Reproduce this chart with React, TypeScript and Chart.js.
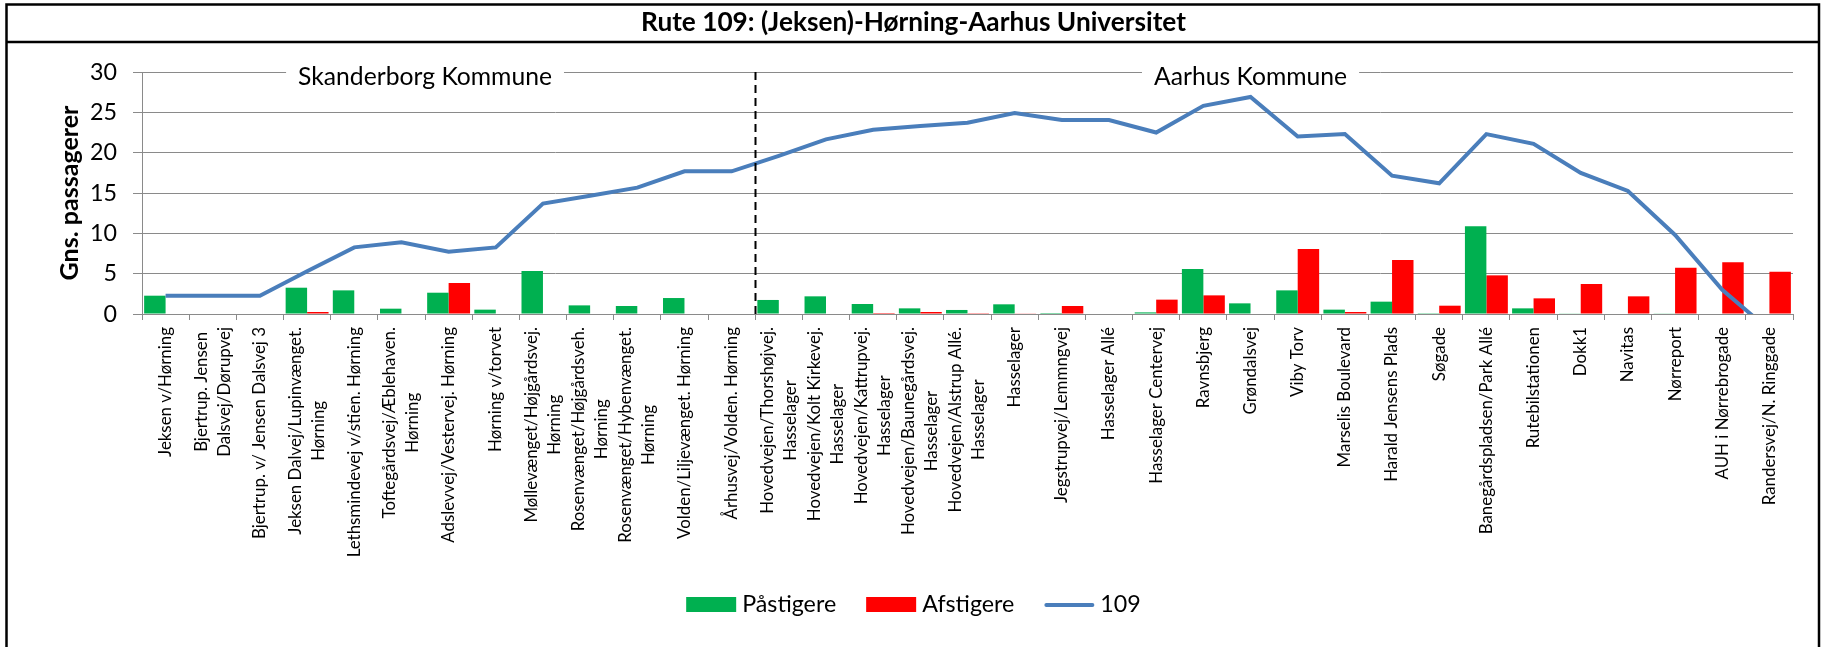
import React, { useEffect, useRef } from 'react';
import { Chart, registerables } from 'chart.js';

Chart.register(...registerables);

const W = 1827;
const H = 647;
const FONT = 'Lato, "Open Sans", sans-serif';

const GREEN = '#00b050';
const RED = '#ff0000';
const BLUE = '#4a7ebb';
const GRID = '#8a8a8a';

const chartTitle = 'Rute 109: (Jeksen)-Hørning-Aarhus Universitet';
const yAxisTitle = 'Gns. passagerer';

const categories: string[][] = [
  ['Jeksen v/Hørning'],
  ['Bjertrup. Jensen', 'Dalsvej/Dørupvej'],
  ['Bjertrup. v/ Jensen Dalsvej 3'],
  ['Jeksen Dalvej/Lupinvænget.', 'Hørning'],
  ['Lethsmindevej v/stien. Hørning'],
  ['Toftegårdsvej/Æblehaven.', 'Hørning'],
  ['Adslevvej/Vestervej. Hørning'],
  ['Hørning v/torvet'],
  ['Møllevænget/Højgårdsvej.', 'Hørning'],
  ['Rosenvænget/Højgårdsveh.', 'Hørning'],
  ['Rosenvænget/Hybenvænget.', 'Hørning'],
  ['Volden/Liljevænget. Hørning'],
  ['Århusvej/Volden. Hørning'],
  ['Hovedvejen/Thorshøjvej.', 'Hasselager'],
  ['Hovedvejen/Kolt Kirkevej.', 'Hasselager'],
  ['Hovedvejen/Kattrupvej.', 'Hasselager'],
  ['Hovedvejen/Baunegårdsvej.', 'Hasselager'],
  ['Hovedvejen/Alstrup Allé.', 'Hasselager'],
  ['Hasselager'],
  ['Jegstrupvej/Lemmngvej'],
  ['Hasselager Allé'],
  ['Hasselager Centervej'],
  ['Ravnsbjerg'],
  ['Grøndalsvej'],
  ['Viby Torv'],
  ['Marselis Boulevard'],
  ['Harald Jensens Plads'],
  ['Søgade'],
  ['Banegårdspladsen/Park Allé'],
  ['Rutebilstationen'],
  ['Dokk1'],
  ['Navitas'],
  ['Nørreport'],
  ['AUH i Nørrebrogade'],
  ['Randersvej/N. Ringgade'],
];

const paastigere = [
  2.27, 0, 0, 3.26, 2.93, 0.66, 2.64, 0.54, 5.33, 1.07, 0.99, 1.98, 0,
  1.74, 2.19, 1.24, 0.7, 0.5, 1.2, 0.12, 0, 0.2, 5.58, 1.32, 2.93, 0.54,
  1.53, 0.1, 10.87, 0.7, 0.08, 0, 0.08, 0, 0,
];

const afstigere = [
  0, 0, 0, 0.25, 0, 0, 3.84, 0, 0, 0, 0, 0, 0,
  0, 0, 0.12, 0.25, 0.1, 0.08, 0.99, 0, 1.78, 2.31, 0, 8.06, 0.25,
  6.69, 1.03, 4.79, 1.94, 3.72, 2.19, 5.74, 6.4, 5.25,
];

const linje109 = [
  2.27, 2.27, 2.27, 5.3, 8.26, 8.88, 7.73, 8.26, 13.68, 14.67, 15.66, 17.69, 17.69,
  19.6, 21.65, 22.85, 23.3, 23.7, 24.9, 24.05, 24.05, 22.5, 25.8, 26.9, 22.0, 22.3,
  17.15, 16.2, 22.3, 21.1, 17.5, 15.25, 9.8, 3.0, -2.0,
];

const yMin = 0;
const yMax = 30;
const yStep = 5;

const regionLabels = ['Skanderborg Kommune', 'Aarhus Kommune'];
const regionCenters = [5.5, 23];
const dividerAt = 12.5;

const legendLabels = ['Påstigere', 'Afstigere', '109'];

// layout constants
const PLOT_LEFT = 142;
const PLOT_RIGHT = 1793;
const PLOT_TOP = 72;
const PLOT_BOTTOM = 314;

function fitSize(text: string, target: number, weight = 'normal') {
  const c = document.createElement('canvas').getContext('2d')!;
  c.font = `${weight} 100px ${FONT}`;
  return (100 * target) / c.measureText(text).width;
}

export default function App() {
  const ref = useRef<HTMLCanvasElement | null>(null);

  useEffect(() => {
    const canvas = ref.current;
    if (!canvas) return;

    const S = {
      label: fitSize('Jeksen v/Hørning', 130),
      tick: fitSize('30', 27),
      region: fitSize('Skanderborg Kommune', 254),
      legend: fitSize('Påstigere', 94),
      title: fitSize(chartTitle, 545, 'bold'),
      ytitle: fitSize(yAxisTitle, 175, 'bold'),
    };
    const LINE_H = 23;

    const decor = {
      id: 'decor',
      afterDatasetsDraw(chart: any) {
        const { ctx, chartArea: a } = chart;
        const x = chart.scales.x;
        // divider
        ctx.save();
        ctx.strokeStyle = '#000';
        ctx.lineWidth = 2;
        ctx.setLineDash([8, 5]);
        const dx = Math.round(x.getPixelForValue(dividerAt)) + 0.5;
        ctx.beginPath();
        ctx.moveTo(dx, a.top);
        ctx.lineTo(dx, a.bottom);
        ctx.stroke();
        ctx.restore();
        // region labels
        ctx.save();
        ctx.font = `normal ${S.region}px ${FONT}`;
        ctx.textAlign = 'center';
        ctx.textBaseline = 'alphabetic';
        regionLabels.forEach((lab, i) => {
          const cx = x.getPixelForValue(regionCenters[i]);
          const w = ctx.measureText(lab).width;
          ctx.fillStyle = '#fff';
          ctx.fillRect(cx - w / 2 - 12, a.top - 3, w + 24, 6);
          ctx.fillStyle = '#000';
          ctx.fillText(lab, cx, a.top + 13);
        });
        ctx.restore();
      },
      afterDraw(chart: any) {
        const { ctx, chartArea: a } = chart;
        const x = chart.scales.x;
        // category labels (rotated, centered lines)
        ctx.save();
        ctx.font = `normal ${S.label}px ${FONT}`;
        ctx.fillStyle = '#000';
        ctx.textAlign = 'center';
        ctx.textBaseline = 'middle';
        categories.forEach((lines, i) => {
          const cx = x.getPixelForValue(i);
          const maxW = Math.max(...lines.map((l) => ctx.measureText(l).width));
          ctx.save();
          ctx.translate(cx, a.bottom + 13);
          ctx.rotate(-Math.PI / 2);
          lines.forEach((l, j) => {
            ctx.fillText(l, -maxW / 2, (j - (lines.length - 1) / 2) * LINE_H);
          });
          ctx.restore();
        });
        ctx.restore();

        // legend
        ctx.save();
        ctx.font = `normal ${S.legend}px ${FONT}`;
        const boxW = 50;
        const gapText = 6;
        const gapItem = 30;
        const widths = legendLabels.map((l) => boxW + gapText + ctx.measureText(l).width);
        const total = widths.reduce((s, v) => s + v, 0) + gapItem * (legendLabels.length - 1);
        let lx = W / 2 - total / 2;
        const colors = [GREEN, RED, BLUE];
        legendLabels.forEach((l, i) => {
          if (i < 2) {
            ctx.fillStyle = colors[i];
            ctx.fillRect(lx, 597, boxW, 15);
          } else {
            ctx.strokeStyle = BLUE;
            ctx.lineWidth = 4;
            ctx.lineCap = 'round';
            ctx.beginPath();
            ctx.moveTo(lx + 2, 605);
            ctx.lineTo(lx + boxW - 2, 605);
            ctx.stroke();
          }
          ctx.fillStyle = '#000';
          ctx.textAlign = 'left';
          ctx.textBaseline = 'alphabetic';
          ctx.fillText(l, lx + boxW + gapText, 612);
          lx += widths[i] + gapItem;
        });
        ctx.restore();

        // frame + title
        ctx.save();
        ctx.strokeStyle = '#000';
        ctx.lineWidth = 2.5;
        ctx.strokeRect(6.5, 4.5, 1812.5, 700);
        ctx.beginPath();
        ctx.moveTo(6.5, 42);
        ctx.lineTo(1819, 42);
        ctx.stroke();
        ctx.font = `bold ${S.title}px ${FONT}`;
        ctx.fillStyle = '#000';
        ctx.textAlign = 'center';
        ctx.textBaseline = 'alphabetic';
        ctx.fillText(chartTitle, W / 2, 31);
        ctx.restore();
      },
    };

    const chart = new Chart(canvas, {
      type: 'bar',
      data: {
        labels: categories.map((c) => c.join(' ')),
        datasets: [
          {
            type: 'line',
            label: legendLabels[2],
            data: linje109,
            borderColor: BLUE,
            backgroundColor: BLUE,
            borderWidth: 4,
            pointRadius: 0,
            tension: 0,
            order: 0,
            clip: { left: 10, right: 10, top: 10, bottom: 0 },
          } as any,
          {
            type: 'bar',
            label: legendLabels[0],
            data: paastigere,
            backgroundColor: GREEN,
            borderWidth: 0,
            order: 1,
            categoryPercentage: 0.91,
            barPercentage: 1,
          },
          {
            type: 'bar',
            label: legendLabels[1],
            data: afstigere,
            backgroundColor: RED,
            borderWidth: 0,
            order: 2,
            categoryPercentage: 0.91,
            barPercentage: 1,
          },
        ],
      },
      options: {
        responsive: false,
        animation: false,
        devicePixelRatio: 1,
        layout: { padding: { top: PLOT_TOP, right: W - PLOT_RIGHT, bottom: 0, left: 0 } },
        plugins: {
          legend: { display: false },
          tooltip: { enabled: false },
          title: { display: false },
        },
        scales: {
          x: {
            type: 'category',
            offset: true,
            grid: {
              offset: true,
              drawOnChartArea: false,
              drawTicks: true,
              tickLength: 6,
              color: GRID,
              lineWidth: 1,
            },
            border: { display: true, color: GRID, width: 1 },
            ticks: { display: false },
            afterFit: (s: any) => {
              s.height = H - PLOT_BOTTOM;
            },
          },
          y: {
            min: yMin,
            max: yMax,
            ticks: {
              stepSize: yStep,
              padding: 16,
              color: '#000',
              font: { family: FONT, size: S.tick },
            },
            grid: { color: GRID, tickLength: 9, lineWidth: 1 },
            border: { color: GRID, width: 1 },
            title: {
              display: true,
              text: yAxisTitle,
              color: '#000',
              font: { family: FONT, size: S.ytitle, weight: 'bold' },
              padding: { top: 70 - (S.ytitle * 1.2) / 2, bottom: 0 },
            },
            afterFit: (s: any) => {
              s.width = PLOT_LEFT;
            },
          },
        },
      },
      plugins: [decor],
    });

    return () => chart.destroy();
  }, []);

  return (
    <div style={{ position: 'fixed', left: 0, top: 0, width: W, height: H, background: '#fff' }}>
      <canvas ref={ref} width={W} height={H} style={{ display: 'block', width: W, height: H }} />
    </div>
  );
}
